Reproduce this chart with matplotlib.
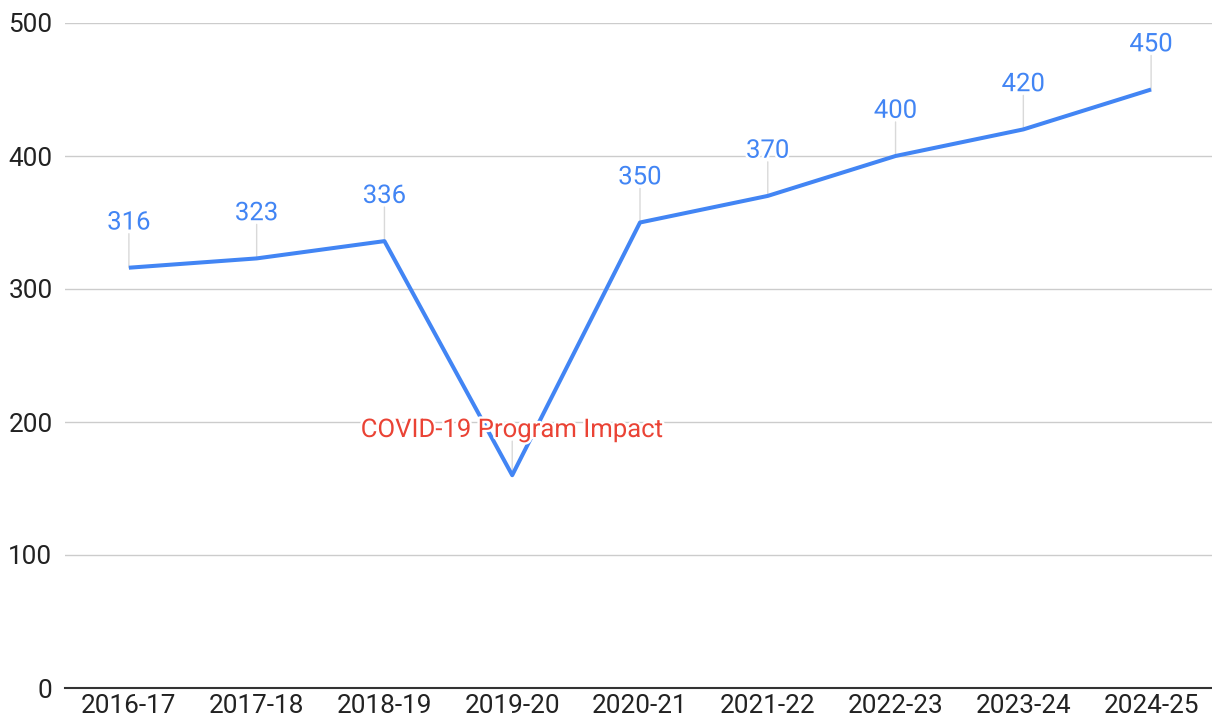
import matplotlib
matplotlib.use("Agg")
import matplotlib.pyplot as plt
import matplotlib.patheffects as pe

years = ["2016-17", "2017-18", "2018-19", "2019-20", "2020-21",
         "2021-22", "2022-23", "2023-24", "2024-25"]
values = [316, 323, 336, 160, 350, 370, 400, 420, 450]
labels = ["316", "323", "336", "COVID-19 Program Impact", "350",
          "370", "400", "420", "450"]
label_colors = ["#4285F4", "#4285F4", "#4285F4", "#EA4335", "#4285F4",
                "#4285F4", "#4285F4", "#4285F4", "#4285F4"]
yticks = [0, 100, 200, 300, 400, 500]

plt.rcParams['font.family'] = ['Roboto', 'DejaVu Sans']

W, H = 1212, 726
fig = plt.figure(figsize=(W / 100, H / 100), dpi=100)
left, right = 65, 1215
bottom, top = 688, 23
ax = fig.add_axes([left / W, (H - bottom) / H, (right - left) / W, (bottom - top) / H])

x = list(range(len(years)))
ax.plot(x, values, color="#4285F4", lw=2.9, solid_joinstyle="round",
        solid_capstyle="butt", zorder=3)

halo = [pe.withStroke(linewidth=3.5, foreground="white")]
for xi, v, lab, c in zip(x, values, labels, label_colors):
    ax.annotate("", xy=(xi, v), xytext=(0, 24.5), textcoords="offset points",
                arrowprops=dict(arrowstyle="-", color="#d9d9d9", lw=1.0,
                                shrinkA=0, shrinkB=0), zorder=2)
    ax.annotate(lab, xy=(xi, v), xytext=(0, 27.5), textcoords="offset points",
                ha="center", va="baseline", color=c, fontsize=18.5,
                path_effects=halo, zorder=5)

ax.set_xlim(-0.5, len(years) - 0.5)
ax.set_ylim(0, 500)
ax.set_yticks(yticks)
ax.set_yticklabels([str(t) for t in yticks])
ax.set_xticks(x)
ax.set_xticklabels(years)

for s in ["top", "right", "left"]:
    ax.spines[s].set_visible(False)
ax.spines["bottom"].set_color("#333333")
ax.spines["bottom"].set_linewidth(1.5)
ax.spines["bottom"].set_zorder(4)

ax.grid(axis="y", color="#cccccc", lw=1.0, zorder=0)
ax.set_axisbelow(True)
ax.tick_params(axis="both", length=0, labelsize=18.8, labelcolor="#222222")
ax.tick_params(axis="y", pad=9)
ax.tick_params(axis="x", pad=4)
for lab in ax.get_yticklabels():
    lab.set_clip_on(False)

fig.savefig("out.png", dpi=100, facecolor="white")
